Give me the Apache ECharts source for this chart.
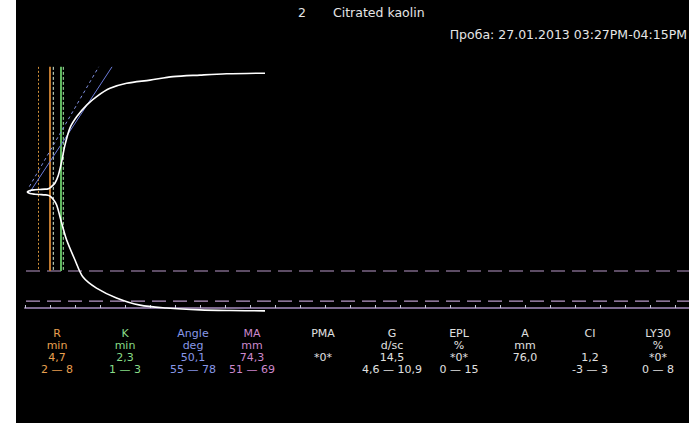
<!DOCTYPE html>
<html><head><meta charset="utf-8">
<script src="https://cdn.jsdelivr.net/npm/echarts@6/dist/echarts.min.js"></script>
<style>html,body{margin:0;padding:0;background:#000;}#c{width:689px;height:423px;}</style>
</head><body><div id="c"></div>
<script>
// ---- data ----
const titleNumber = '2';
const titleText = 'Citrated kaolin';
const sampleText = 'Проба: 27.01.2013 03:27PM-04:15PM';

// TEG trace (time in min, half-amplitude in mm)
const upperTime = [0.4, 1.0, 2.0, 3.0, 4.0, 4.6, 5.0, 5.5, 6.0, 6.67, 7.33, 8.0, 9.0, 10.33, 12.33, 14.33, 17.0, 20.33, 25.0, 29.6, 35.0, 40.3, 48.0];
const upperAmp  = [0.0, 0.5, 0.7, 0.8, 0.9, 1.0, 1.3, 2.0, 2.85, 5.3, 9.6, 14.9, 20.3, 23.8, 27.5, 30.2, 32.8, 34.4, 35.4, 36.5, 37.0, 37.4, 37.6];
const lowerTime = [0.4, 1.0, 2.0, 3.0, 4.0, 4.6, 5.0, 5.6, 6.33, 7.33, 8.33, 10.0, 11.6, 14.3, 18.3, 23.0, 28.3, 35.0, 41.0, 48.0];
const lowerAmp  = [0.0, -0.5, -0.7, -0.8, -0.9, -1.0, -1.3, -2.2, -4.1, -9.8, -15.2, -21.5, -26.9, -30.4, -33.5, -35.8, -36.7, -37.3, -37.5, -37.6];

// R / K marker times (min)
const markerNames = ['R low', 'R', 'K low', 'R+K', 'K high'];
const markerTimes = [2.7, 5.0, 5.66, 7.2, 7.66];
const markerTop = 39.6;
const markerBottom = -25.0;

// Angle tangent lines [time, amp]
const angleSolidTime = [1.0, 17.4];
const angleSolidAmp  = [0.0, 39.6];
const angleDashTime  = [0.86, 14.74];
const angleDashAmp   = [1.7, 39.6];

// MA reference levels (half-amplitude, lower half)
const maLevels = [-25.0, -34.5];

// parameter table
const paramNames  = ['R', 'K', 'Angle', 'MA', 'PMA', 'G', 'EPL', 'A', 'CI', 'LY30'];
const paramUnits  = ['min', 'min', 'deg', 'mm', '', 'd/sc', '%', 'mm', '', '%'];
const paramValues = ['4,7', '2,3', '50,1', '74,3', '*0*', '14,5', '*0*', '76,0', '1,2', '*0*'];
const paramRanges = ['2 — 8', '1 — 3', '55 — 78', '51 — 69', '', '4,6 — 10,9', '0 — 15', '', '-3 — 3', '0 — 8'];

// ---- layout / style ----
const colX = [57, 125, 193, 252, 323, 392, 459, 525, 590, 658];
const rowY = [333, 345, 357, 369];
const paramColors = ['#e8a050', '#88dd88', '#8898e8', '#cc88cc', '#e0e0e0', '#e0e0e0', '#e0e0e0', '#e0e0e0', '#e0e0e0', '#e0e0e0'];
const markerStyles = [
  {color: '#d0903a', type: [2, 2], width: 1},
  {color: '#c07a30', type: 'solid', width: 2},
  {color: '#d8f0d8', type: [3, 2], width: 1},
  {color: '#60b860', type: 'solid', width: 2},
  {color: '#a8f0a8', type: [3, 2], width: 1}
];
const FONT = 'DejaVu Sans';

const series = [];
series.push({type: 'line', data: upperTime.map((t, i) => [t, upperAmp[i]]), smooth: 0.3, symbol: 'none', clip: false,
  lineStyle: {color: '#ffffff', width: 1.6}, z: 5});
series.push({type: 'line', data: lowerTime.map((t, i) => [t, lowerAmp[i]]), smooth: 0.3, symbol: 'none', clip: false,
  lineStyle: {color: '#ffffff', width: 1.6}, z: 5});
markerTimes.forEach((t, i) => {
  series.push({type: 'line', name: markerNames[i], data: [[t, markerTop], [t, markerBottom]], symbol: 'none',
    lineStyle: markerStyles[i], z: 3});
});
series.push({type: 'line', data: angleSolidTime.map((t, i) => [t, angleSolidAmp[i]]), symbol: 'none',
  lineStyle: {color: '#6a7ad8', width: 1}, z: 4});
series.push({type: 'line', data: angleDashTime.map((t, i) => [t, angleDashAmp[i]]), symbol: 'none',
  lineStyle: {color: '#8090e0', width: 1, type: [3, 3]}, z: 4});
maLevels.forEach(v => {
  series.push({type: 'line', data: [[0.2, v], [132.8, v]], symbol: 'none',
    lineStyle: {color: '#b898c8', width: 1.2, type: [14, 7]}, z: 2});
});

const graphic = [
  {type: 'rect', left: 0, top: 0, shape: {width: 16, height: 423}, style: {fill: '#ffffff'}},
  {type: 'text', left: 298, top: 6, style: {text: titleNumber, fill: '#e6e6e6', font: '12.5px ' + FONT}},
  {type: 'text', left: 333, top: 6, style: {text: titleText, fill: '#e6e6e6', font: '12.5px ' + FONT}},
  {type: 'text', right: 2, top: 28, style: {text: sampleText, fill: '#e6e6e6', font: '12.5px ' + FONT}}
];
const rows = [paramNames, paramUnits, paramValues, paramRanges];
rows.forEach((row, r) => {
  row.forEach((txt, c) => {
    if (!txt) return;
    graphic.push({type: 'text', x: colX[c], y: rowY[r],
      style: {text: txt, fill: paramColors[c], font: '11px ' + FONT, align: 'center', verticalAlign: 'middle'}});
  });
});

const chart = echarts.init(document.getElementById('c'), null, {renderer: 'svg'});
chart.setOption({
  backgroundColor: '#000000',
  animation: false,
  grid: {left: 25, right: 0, top: 65.6, bottom: 115},
  xAxis: {type: 'value', min: 0, max: 132.8, interval: 5,
    axisLine: {show: true, onZero: false, lineStyle: {color: '#7d6a8f', width: 2}},
    axisTick: {show: true, inside: true, length: 3, lineStyle: {color: '#c8c8d8'}},
    axisLabel: {show: false}, splitLine: {show: false}},
  yAxis: {type: 'value', min: -36.7, max: 40, show: false, splitLine: {show: false}},
  series: series,
  graphic: graphic
});
</script></body></html>
